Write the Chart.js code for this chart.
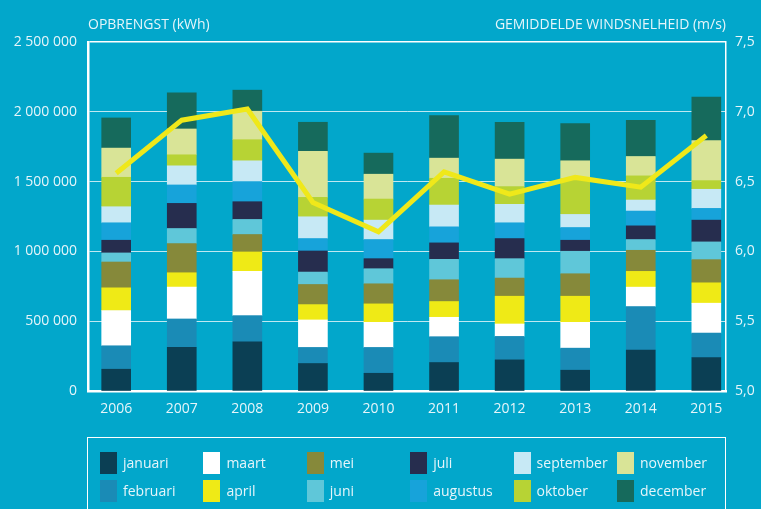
<!DOCTYPE html>
<html>
<head>
<meta charset="utf-8">
<script src="https://cdn.jsdelivr.net/npm/chart.js@4/dist/chart.umd.min.js"></script>
<style>
  body { margin: 0; background: #02a7cb; }
  #wrap { position: relative; width: 761px; height: 509px; overflow: hidden; background: #02a7cb; font-family: "Open Sans", sans-serif; color: #e6f5fa; }
  canvas { position: absolute; left: 0; top: 0; }
  .title { position: absolute; top: 17px; font-size: 14px; line-height: 14px; white-space: nowrap; }
  #legend { position: absolute; left: 87px; top: 437px; width: 637px; height: 100px; border: 1.5px solid #fff; }
  .item { position: absolute; font-size: 14px; line-height: 22px; white-space: nowrap; }
  .item span { display: inline-block; width: 17px; height: 22px; vertical-align: top; margin-right: 6px; }
</style>
</head>
<body>
<div id="wrap">
  <canvas id="chart" width="761" height="509"></canvas>
  <div class="title" style="left:88px">OPBRENGST (kWh)</div>
  <div class="title" style="right:35px">GEMIDDELDE WINDSNELHEID (m/s)</div>
  <div id="legend"></div>
</div>
<script>
// years on the x axis
var years = ["2006", "2007", "2008", "2009", "2010", "2011", "2012", "2013", "2014", "2015"];

// monthly yield per year (kWh)
var januari   = [156000, 312000, 353000, 197000, 127000, 204000, 223000, 149000, 293000, 240000];
var februari  = [168000, 204000, 187000, 115000, 185000, 185000, 168000, 158000, 312000, 175000];
var maart     = [252000, 228000, 317000, 197000, 180000, 139000, 89000, 185000, 139000, 214000];
var april     = [163000, 103000, 139000, 110000, 132000, 113000, 199000, 187000, 113000, 146000];
var mei       = [185000, 209000, 125000, 144000, 144000, 156000, 130000, 161000, 151000, 166000];
var juni      = [65000, 108000, 108000, 89000, 108000, 146000, 139000, 161000, 77000, 127000];
var juli      = [91000, 180000, 127000, 151000, 72000, 118000, 144000, 79000, 98000, 156000];
var augustus  = [125000, 132000, 144000, 89000, 137000, 115000, 113000, 91000, 106000, 84000];
var september = [115000, 137000, 149000, 156000, 139000, 156000, 132000, 94000, 79000, 137000];
var oktober   = [211000, 79000, 151000, 139000, 151000, 192000, 127000, 254000, 173000, 62000];
var november  = [209000, 185000, 204000, 329000, 178000, 144000, 197000, 130000, 139000, 286000];
var december  = [216000, 259000, 151000, 209000, 151000, 305000, 264000, 266000, 259000, 312000];

// average wind speed (m/s)
var windspeed = [6.56, 6.94, 7.02, 6.35, 6.14, 6.57, 6.41, 6.53, 6.46, 6.83];

var monthNames = ["januari", "februari", "maart", "april", "mei", "juni", "juli", "augustus", "september", "oktober", "november", "december"];
var monthValues = [januari, februari, maart, april, mei, juni, juli, augustus, september, oktober, november, december];
var monthColors = ["#0b3f54", "#1a8bb6", "#ffffff", "#efea16", "#86893a", "#5fc7d9", "#262d4e", "#17a3da", "#c7e9f5", "#b7d334", "#d9e497", "#166a5c"];

var leftTicks = [0, 500000, 1000000, 1500000, 2000000, 2500000];
var rightTicks = ["5,0", "5,5", "6,0", "6,5", "7,0", "7,5"];

var textColor = "#e6f5fa";
var tickFont = { family: "'Open Sans', sans-serif", size: 14 };

var datasets = monthNames.map(function (name, m) {
    return {
        type: "bar",
        label: name,
        data: monthValues[m].map(function (v, i) { return { x: i, y: v }; }),
        backgroundColor: monthColors[m],
        barThickness: 29,
        yAxisID: "y",
        order: 1
    };
});
datasets.push({
    type: "line",
    label: "windsnelheid",
    data: windspeed.map(function (v, i) { return { x: i, y: v }; }),
    borderColor: "#efe81a",
    borderWidth: 5,
    pointRadius: 0,
    tension: 0,
    yAxisID: "y1",
    order: 0
});

new Chart(document.getElementById("chart"), {
    type: "bar",
    data: { datasets: datasets },
    options: {
        responsive: false,
        animation: false,
        layout: { padding: { top: 42, bottom: 88 } },
        plugins: { legend: { display: false }, tooltip: { enabled: false } },
        scales: {
            x: {
                type: "linear",
                stacked: true,
                offset: false,
                min: -0.43,
                max: 9.3,
                afterFit: function (s) { s.height = 30; },
                grid: { display: false },
                border: { display: true, color: "#ffffff", width: 2.5 },
                ticks: {
                    stepSize: 1,
                    includeBounds: false,
                    autoSkip: false,
                    maxRotation: 0,
                    padding: 2,
                    color: textColor,
                    font: tickFont,
                    callback: function (v) { return Number.isInteger(v) ? years[v] : ""; }
                }
            },
            y: {
                position: "left",
                stacked: true,
                min: 0,
                max: 2500000,
                z: 1,
                afterFit: function (s) { s.width = 88; },
                afterBuildTicks: function (s) { s.ticks = leftTicks.map(function (v) { return { value: v }; }); },
                grid: {
                    drawTicks: false,
                    color: function (c) { return c.tick && c.tick.value === 2500000 ? "#ffffff" : "rgba(255,255,255,0.75)"; },
                    lineWidth: function (c) { return c.tick && c.tick.value === 2500000 ? 1.5 : 1; }
                },
                border: { display: true, color: "#ffffff", width: 2.5 },
                ticks: {
                    padding: 11,
                    color: textColor,
                    font: tickFont,
                    callback: function (v) { return String(v).replace(/\B(?=(\d{3})+(?!\d))/g, " "); }
                }
            },
            y1: {
                position: "right",
                min: 5,
                max: 7.5,
                z: 1,
                afterFit: function (s) { s.width = 35; },
                afterBuildTicks: function (s) { s.ticks = rightTicks.map(function (t, i) { return { value: 5 + i * 0.5 }; }); },
                grid: { display: false, drawTicks: false },
                border: { display: true, color: "#ffffff", width: 1.5 },
                ticks: {
                    padding: 9,
                    color: textColor,
                    font: tickFont,
                    callback: function (v, i) { return rightTicks[i]; }
                }
            }
        }
    }
});

// legend, two rows per column
var legend = document.getElementById("legend");
monthNames.forEach(function (name, m) {
    var col = Math.floor(m / 2), row = m % 2;
    var item = document.createElement("div");
    item.className = "item";
    item.style.left = (12 + col * 103.4) + "px";
    item.style.top = (14 + row * 27.5) + "px";
    item.innerHTML = '<span style="background:' + monthColors[m] + '"></span>' + name;
    legend.appendChild(item);
});
</script>
</body>
</html>
